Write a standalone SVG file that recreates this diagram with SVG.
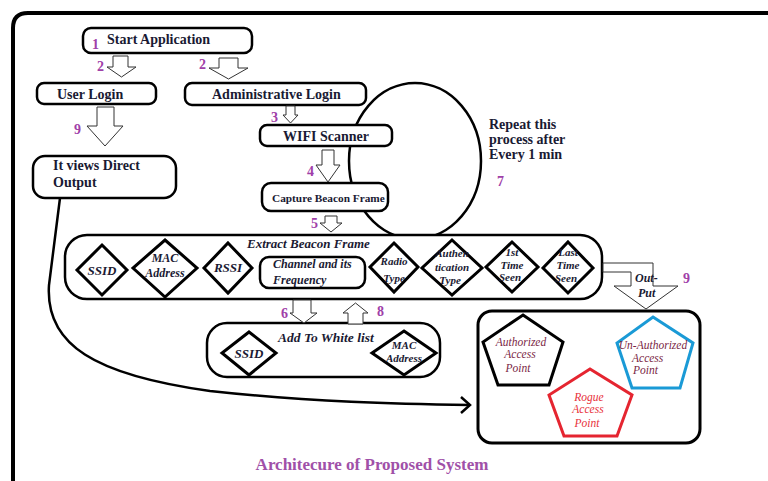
<svg xmlns="http://www.w3.org/2000/svg" width="768" height="481" viewBox="0 0 768 481">
<style>
.box{fill:#fff;stroke:#000;stroke-width:2.5}
.dia{fill:#fff;stroke:#000;stroke-width:3}
.barr{fill:#fff;stroke:#333;stroke-width:1}
.lbl{font-family:"Liberation Serif","Times New Roman",serif;font-weight:bold;font-size:14px;fill:#1a1a33}
.it{font-family:"Liberation Serif","Times New Roman",serif;font-weight:bold;font-style:italic;fill:#1a1a33}
.num{font-family:"Liberation Serif","Times New Roman",serif;font-weight:bold;font-size:14px;fill:#a040a8}
.pt{font-family:"Liberation Serif","Times New Roman",serif;font-style:italic;font-size:11.5px;fill:#7a1f45}
.mid{text-anchor:middle}
</style>
<rect width="768" height="481" fill="#fff"/>
<path d="M13,481 L13,28 Q13,13 28,13 L768,13" fill="none" stroke="#000" stroke-width="4"/>

<g id="repeat-loop">
<ellipse cx="415" cy="161" rx="66" ry="78" fill="none" stroke="#000" stroke-width="2.5"/>
<text class="lbl" x="489" y="129">Repeat this</text>
<text class="lbl" x="489" y="144">process after</text>
<text class="lbl" x="489" y="159">Every 1 min</text>
<text class="num" x="497" y="186">7</text>
</g>

<g id="start">
<rect class="box" x="83" y="28" width="169" height="25" rx="8"/>
<text class="lbl" x="107" y="44">Start Application</text>
</g>
<g id="user-login">
<rect class="box" x="37" y="83" width="119" height="21" rx="7"/>
<text class="lbl" x="57" y="99">User Login</text>
</g>
<g id="admin-login">
<rect class="box" x="185" y="83" width="181" height="22" rx="7"/>
<text class="lbl" x="212" y="99">Administrative Login</text>
</g>
<g id="wifi-scanner">
<rect class="box" x="260" y="125" width="132" height="21" rx="7"/>
<text class="lbl" x="283" y="141">WIFI Scanner</text>
</g>
<g id="direct-output">
<rect class="box" x="33" y="156" width="143" height="42" rx="12"/>
<text class="lbl" x="53" y="170">It views Direct</text>
<text class="lbl" x="53" y="187">Output</text>
</g>
<g id="capture">
<rect class="box" x="262" y="183" width="126" height="28" rx="9"/>
<text class="lbl" x="272" y="202" style="font-size:11.3px">Capture Beacon Frame</text>
</g>

<g id="extract">
<rect class="box" x="65" y="235" width="537" height="64" rx="22"/>
<text class="it" x="247" y="248" style="font-size:13px">Extract Beacon Frame</text>
<polygon class="dia" points="102,245 127,270 102,295 77,270"/>
<text class="it mid" x="102" y="275" style="font-size:13px">SSID</text>
<polygon class="dia" points="165,240 197,268 165,297 133,268"/>
<text class="it mid" x="165" y="262" style="font-size:12px">MAC</text>
<text class="it mid" x="165" y="277" style="font-size:12px">Address</text>
<polygon class="dia" points="228,243 252,268 228,293 204,268"/>
<text class="it mid" x="228" y="272" style="font-size:13px">RSSI</text>
<rect class="box" x="260" y="257" width="105" height="31" rx="9"/>
<text class="it" x="273" y="268" style="font-size:12px">Channel and its</text>
<text class="it" x="273" y="284" style="font-size:12px">Frequency</text>
<polygon class="dia" points="394,243 418,267 394,292 370,267"/>
<text class="it mid" x="394" y="265" style="font-size:11px">Radio</text>
<text class="it mid" x="394" y="282" style="font-size:11px">Type</text>
<polygon class="dia" points="452,240 482,268 452,295 422,268"/>
<text class="it mid" x="452" y="257" style="font-size:11px">Authen</text>
<text class="it mid" x="452" y="271" style="font-size:11px">tication</text>
<text class="it mid" x="450" y="284" style="font-size:11px">Type</text>
<polygon class="dia" points="512,242 538,267 512,292 486,267"/>
<text class="it mid" x="512" y="256" style="font-size:11px">1st</text>
<text class="it mid" x="512" y="269" style="font-size:11px">Time</text>
<text class="it mid" x="510" y="281" style="font-size:11px">Seen</text>
<polygon class="dia" points="568,242 593,268 568,293 543,268"/>
<text class="it mid" x="568" y="256" style="font-size:11px">Last</text>
<text class="it mid" x="568" y="269" style="font-size:11px">Time</text>
<text class="it mid" x="566" y="282" style="font-size:11px">Seen</text>
</g>

<g id="white-list">
<rect class="box" x="207" y="323" width="233" height="54" rx="20"/>
<text class="it" x="278" y="342" style="font-size:13.5px">Add To White list</text>
<polygon class="dia" points="249,332 276,353 249,375 222,353"/>
<text class="it mid" x="249" y="358" style="font-size:13px">SSID</text>
<polygon class="dia" points="404,331 436,353 404,375 372,353"/>
<text class="it mid" x="404" y="349" style="font-size:11px">MAC</text>
<text class="it mid" x="404" y="362" style="font-size:11px">Address</text>
</g>

<g id="access-points">
<rect class="box" x="478" y="311" width="222" height="132" rx="14" style="stroke-width:3"/>
<polygon points="523,315 563,342 549,385 498,385 483,342" fill="none" stroke="#000" stroke-width="3"/>
<text class="pt mid" x="521" y="346">Authorized</text>
<text class="pt mid" x="520" y="358">Access</text>
<text class="pt mid" x="518" y="372">Point</text>
<polygon points="653,317 693,343 680,388 632,388 617,343" fill="none" stroke="#1a9ad6" stroke-width="3"/>
<text class="pt mid" x="653" y="349">Un-Authorized</text>
<text class="pt" x="632" y="362">Access</text>
<text class="pt" x="633" y="374">Point</text>
<polygon points="590,369 632,395 617,436 564,436 549,395" fill="none" stroke="#e52530" stroke-width="3"/>
<text class="pt mid" x="589" y="401" style="fill:#e8303a">Rogue</text>
<text class="pt mid" x="588" y="413" style="fill:#e8303a">Access</text>
<text class="pt mid" x="587" y="427" style="fill:#e8303a">Point</text>
</g>

<g id="connectors">
<polygon class="barr" points="113,56 128,56 128,67 136,67 121.5,77 107,67 113,67"/>
<polygon class="barr" points="219,58 238,58 238,68 248,68 228.5,79 209,68 219,68"/>
<polygon class="barr" points="97,107 114,107 114,126 123,126 105,146 87,126 97,126"/>
<polygon class="barr" points="286,106 295,106 295,115 298,115 290.5,123 283,115 286,115"/>
<polygon class="barr" points="322,150 334,150 334,165 340,165 328,182 316,165 322,165"/>
<polygon class="barr" points="325,216 337,216 337,223 342,223 331,232 320,223 325,223"/>
<polygon class="barr" points="293,300 311,300 311,313 317,313 304,323 290,313 293,313"/>
<polygon class="barr" points="348,324 363,324 363,313 368,313 355.5,303 343,313 348,313"/>
<polygon class="barr" points="603,263 653,263 653,286 678,286 646,309 614,286 631,286 631,272 603,272"/>
<text class="it" x="635" y="282" style="font-size:12px">Out-</text>
<text class="it" x="638" y="297" style="font-size:12px">Put</text>
<path d="M60,198 L49,285 C45,345 95,375 210,391 C310,402 400,404 470,405" fill="none" stroke="#000" stroke-width="2.5"/>
<polyline points="461,397 470,405 461,413" fill="none" stroke="#000" stroke-width="2.5"/>
<text class="num" x="92" y="49">1</text>
<text class="num" x="97" y="71">2</text>
<text class="num" x="199" y="69">2</text>
<text class="num" x="74" y="134">9</text>
<text class="num" x="271" y="122">3</text>
<text class="num" x="307" y="176">4</text>
<text class="num" x="311" y="228">5</text>
<text class="num" x="281" y="318">6</text>
<text class="num" x="377" y="316">8</text>
<text class="num" x="683" y="283">9</text>
</g>

<text x="372" y="470" text-anchor="middle" style="font-family:'Liberation Serif','Times New Roman',serif;font-weight:bold;font-size:17px;fill:#a050a8">Architecure of Proposed System</text>
</svg>
